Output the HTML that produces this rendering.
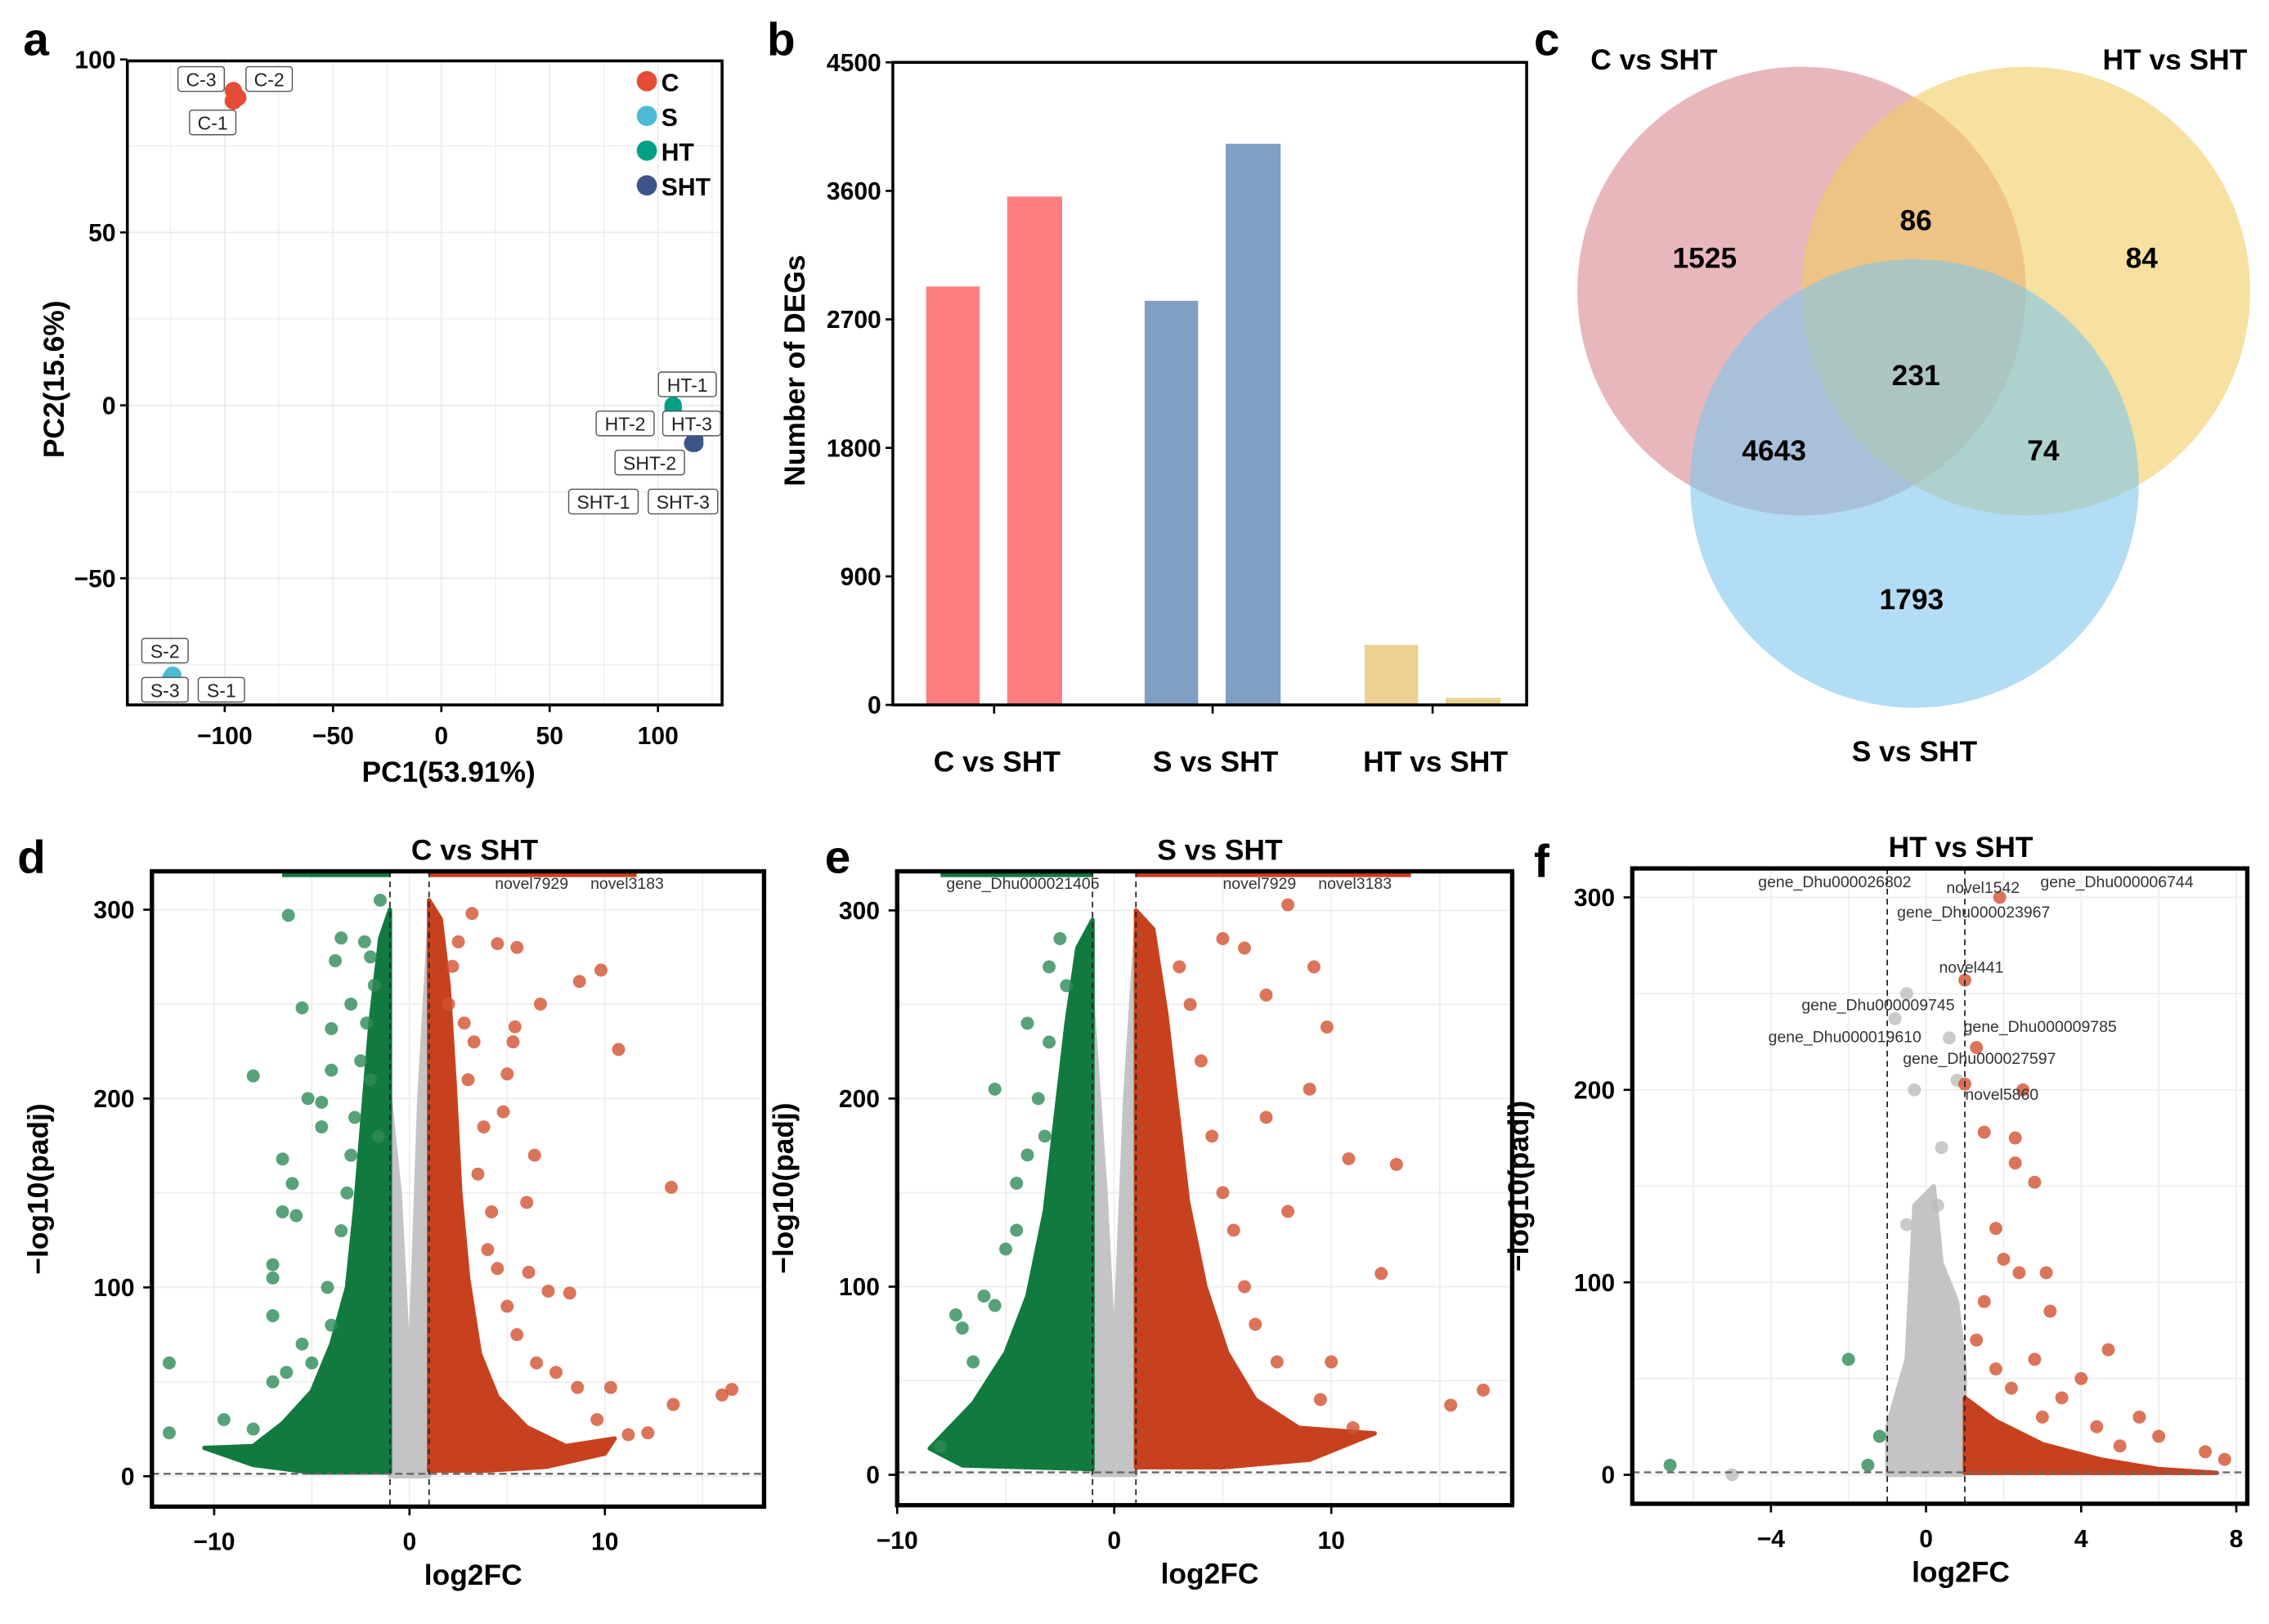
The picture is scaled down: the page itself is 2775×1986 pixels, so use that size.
<!DOCTYPE html>
<html><head><meta charset="utf-8"><style>
html,body{margin:0;padding:0;background:#fff}
svg{display:block;font-family:"Liberation Sans",Arial,sans-serif}
.t{font-weight:bold;font-size:17px}
.ax{font-weight:bold;font-size:20px}
.pl{font-weight:bold;font-size:32px}
.lbl{font-size:13px;fill:#222}
</style></head><body>
<svg id="fig" width="2775" height="1986" viewBox="0 0 1568 1122" xmlns="http://www.w3.org/2000/svg"></svg>
<script>
// ---- Panel a data ----
const pcaGroups=['C','S','HT','SHT'];
const pcaColors=['#e64b35','#4dbbd5','#00a087','#3c5488'];
const pcaPC1=[-96,-94,-96, -125,-125,-124, 107,107,107, 117,116,117];
const pcaPC2=[88,89,91, -79,-79,-78, 0,-1,-0.5, -11,-11,-10];
const pcaGroupIdx=[0,0,0,1,1,1,2,2,2,3,3,3];
const pcaXTicks=[-100,-50,0,50,100];
const pcaYTicks=[-50,0,50,100];
// ---- Panel b data ----
const degCategories=['C vs SHT','S vs SHT','HT vs SHT'];
const degUp=[2930,2830,420];
const degDown=[3560,3930,50];
const degTicks=[0,900,1800,2700,3600,4500];
// ---- Panel c data ----
const vennLabels=['1525','86','84','231','4643','74','1793'];
// ---- Volcano data ----
const volDGreen=[[-12.3,60],[-12.3,23],[-8,212],[-6.2,297],[-5.5,248],[-5.2,200],[-6.5,168],[-6,155],[-6.5,140],[-5.8,138],[-7,112],[-7,105],[-7,85],[-4.5,198],[-4.5,185],[-3.5,285],[-3.8,273],[-2.3,283],[-4,237],[-4,215],[-3,250],[-2,275],[-1.5,305],[-9.5,30],[-8,25],[-7,50],[-5,60],[-4,80],[-3.5,130],[-3,170],[-2.5,220],[-2.2,240],[-1.8,260],[-4.2,100],[-5.5,70],[-6.3,55],[-2.8,190],[-3.2,150],[-2,210],[-1.6,180]];
const volDRed=[[3.2,298],[2.5,283],[4.5,282],[5.5,280],[9.8,268],[8.7,262],[6.7,250],[10.7,226],[5.4,238],[5.3,230],[5,213],[4.8,193],[6.4,170],[6,145],[13.4,153],[6.1,108],[7.1,98],[8.2,97],[16.5,46],[16,43],[13.5,38],[9.6,30],[11.2,22],[12.2,23],[10.3,47],[8.6,47],[7.5,55],[4,120],[3.5,160],[3,210],[2.8,240],[2.2,270],[3.8,185],[4.2,140],[5,90],[5.5,75],[3.3,230],[2,250],[4.5,110],[6.5,60]];
const volDGreenArea=[[-1,3],[-1,300],[-1.5,285],[-2,240],[-2.4,190],[-2.8,140],[-3.2,100],[-4,70],[-5,45],[-6.5,28],[-8,16],[-10.5,15],[-8,6],[-5,2],[-1,2]];
const volDRedArea=[[1,3],[1,305],[1.6,295],[2,260],[2.3,210],[2.6,150],[3,105],[3.6,65],[4.5,42],[6,26],[8,16],[10.5,20],[10,12],[7,5],[4,3]];
const volDGrayArea=[[-1,0],[-1,200],[-0.5,150],[0,50],[0.5,200],[1,290],[1,0]];
const volEGreen=[[-5.5,205],[-4,240],[-4.5,155],[-6,95],[-7.3,85],[-7,78],[-3,270],[-2.5,285],[-5,120],[-6.5,60],[-8,15],[-3.5,200],[-3,230],[-4,170],[-4.5,130],[-5.5,90],[-2.2,260],[-3.2,180]];
const volERed=[[8,303],[9.8,238],[9,205],[10.8,168],[13,165],[12.3,107],[15.5,37],[17,45],[11,25],[9.5,40],[6,280],[7,255],[5,285],[9.2,270],[7,190],[8,140],[6,100],[10,60],[3.5,250],[4,220],[4.5,180],[5,150],[5.5,130],[3,270],[6.5,80],[7.5,60]];
const volEGreenArea=[[-1,4],[-1,295],[-1.7,280],[-2.2,240],[-2.7,190],[-3.2,140],[-4,95],[-5,65],[-6.5,38],[-8.5,14],[-7,5],[-1,3]];
const volERedArea=[[1,4],[1,300],[1.8,290],[2.4,245],[2.9,195],[3.4,145],[4.2,100],[5.2,65],[6.5,40],[8.5,25],[12,22],[9,8],[5,4]];
const volEGrayArea=[[-1,0],[-1,250],[-0.4,150],[0,60],[0.5,200],[1,290],[1,0]];
const volFRed=[[1.9,300],[1,257],[1.3,222],[1,203],[2.5,200],[1.5,178],[2.3,175],[2.3,162],[2.8,152],[1.8,128],[2,112],[2.4,105],[3.1,105],[3.2,85],[4.7,65],[5.5,30],[6,20],[7.2,12],[7.7,8],[4,50],[3.5,40],[2.8,60],[1.5,90],[1.3,70],[2.2,45],[3,30],[4.4,25],[5,15],[1.8,55]];
const volFGreen=[[-2,60],[-6.6,5],[-1.5,5],[-1.2,20]];
const volFGray=[[-5,0],[-0.5,250],[-0.8,237],[0.6,227],[0.8,205],[-0.3,200],[0.4,170],[-0.5,130],[0.3,140]];
const volFGrayArea=[[-1,0],[-1,25],[-0.5,60],[-0.3,140],[0.2,150],[0.4,110],[0.8,90],[1,55],[1,0]];
const volFRedArea=[[1,1],[1,40],[1.8,28],[3,16],[4.5,8],[6,3],[7.5,1]];

const svg=document.getElementById('fig');
const NS='http://www.w3.org/2000/svg';
function mk(tag,attrs,parent,text){const e=document.createElementNS(NS,tag);for(const k in attrs)e.setAttribute(k,attrs[k]);if(text!==undefined)e.textContent=text;(parent||svg).appendChild(e);return e;}

[['a',16,38],['b',530,38],['c',1060,38],['d',12,603],['e',570,603],['f',1060,606]].forEach(p=>{
 const e=mk('text',{x:p[1],y:p[2],class:'pl'},svg,p[0]);
 
 
});

// ===== Panel a =====
(function(){
 const g=mk('g',{});
 
 
 const L=88,R=499,T=42,B=487;
 const sx=v=>305+(v)*1.497, sy=v=>280-v*2.39;
 for(let v=-125;v<=125;v+=25){mk('line',{x1:sx(v),x2:sx(v),y1:T,y2:B,stroke:'#ebebeb','stroke-width':v%50===0?1:0.6},g);}
 for(let v=-75;v<=100;v+=25){mk('line',{x1:L,x2:R,y1:sy(v),y2:sy(v),stroke:'#ebebeb','stroke-width':v%50===0?1:0.6},g);}
 pcaXTicks.forEach(v=>{mk('line',{x1:sx(v),x2:sx(v),y1:B,y2:B+5,stroke:'#000','stroke-width':1.5},g);
  const t=mk('text',{x:sx(v),y:B+27,class:'t','text-anchor':'middle'},g,v<0?'\u2212'+(-v):v);});
 pcaYTicks.forEach(v=>{mk('line',{x1:L-5,x2:L,y1:sy(v),y2:sy(v),stroke:'#000','stroke-width':1.5},g);
  const t=mk('text',{x:L-8,y:sy(v)+6,class:'t','text-anchor':'end'},g,v<0?'\u2212'+(-v):v);});
 mk('rect',{x:L,y:T,width:R-L,height:B-T,fill:'none',stroke:'#000','stroke-width':2},g);
 const xt=mk('text',{x:310,y:540,class:'ax','text-anchor':'middle'},g,'PC1(53.91%)');
 const yt=mk('text',{x:0,y:0,class:'ax','text-anchor':'middle',transform:'translate(44,262) rotate(-90)'},g,'PC2(15.6%)');
 pcaPC1.forEach((v,i)=>{const c=mk('circle',{cx:sx(v),cy:sy(pcaPC2[i]),r:6,fill:pcaColors[pcaGroupIdx[i]]},g);
  });
 const labs=[['C-3',123,46],['C-2',170,46],['C-1',131,76],['HT-1',455,257],['HT-2',412,284],['HT-3',458,284],['SHT-2',425,311],['SHT-1',393,338],['SHT-3',448,338],['S-2',98,441],['S-3',98,468],['S-1',137,468]];
 labs.forEach(l=>{const w=l[0].length*8+8;mk('rect',{x:l[1],y:l[2],width:w,height:17,fill:'#fff',stroke:'#555','stroke-width':0.8,rx:2},g);
  const t=mk('text',{x:l[1]+w/2,y:l[2]+13.5,'text-anchor':'middle',class:'lbl'},g,l[0]);});
 pcaGroups.forEach((n,i)=>{const y=56+i*24;mk('circle',{cx:447,cy:y,r:7,fill:pcaColors[i]},g);
  const t=mk('text',{x:457,y:y+7,class:'t'},g,n);});
})();

// ===== Panel b =====
(function(){
 const g=mk('g',{});
 
 
 const L=617,R=1055,T=43,B=487;
 const sy=v=>B-v/4500*(B-T);
 const centers=[687,838,990];
 const cols=['#ff7f80','#7f9fc4','#ebd293'];
 degTicks.forEach(v=>{mk('line',{x1:L-5,x2:L,y1:sy(v),y2:sy(v),stroke:'#000','stroke-width':1.5},g);
  const t=mk('text',{x:L-8,y:sy(v)+6,class:'t','text-anchor':'end'},g,v);});
 degCategories.forEach((c,i)=>{
  const b1=mk('rect',{x:centers[i]-47,y:sy(degUp[i]),width:37,height:B-sy(degUp[i]),fill:cols[i]},g);
  
  const b2=mk('rect',{x:centers[i]+9,y:sy(degDown[i]),width:38,height:B-sy(degDown[i]),fill:cols[i]},g);
  
  mk('line',{x1:centers[i],x2:centers[i],y1:B,y2:B+6,stroke:'#000','stroke-width':1.5},g);
  const t=mk('text',{x:centers[i]+2,y:533,class:'ax','text-anchor':'middle'},g,c);
 });
 mk('rect',{x:L,y:T,width:R-L,height:B-T,fill:'none',stroke:'#000','stroke-width':2},g);
 const yt=mk('text',{x:0,y:0,class:'ax','text-anchor':'middle',transform:'translate(556,256) rotate(-90)'},g,'Number of DEGs');
})();

// ===== Panel c =====
(function(){
 const g=mk('g',{});
 
 
 const circ=[[1245,201,'#d9878f'],[1400,201,'#f0cd63'],[1323,334,'#7ec7ec']];
 const names=['c-vs-sht','ht-vs-sht','s-vs-sht'];
 circ.forEach((c,i)=>{const e=mk('circle',{cx:c[0],cy:c[1],r:155,fill:c[2],'fill-opacity':0.6},g);});
 const pos=[[1178,185],[1324,159],[1480,185],[1324,266],[1226,318],[1412,318],[1321,421]];
 vennLabels.forEach((v,i)=>{const t=mk('text',{x:pos[i][0],y:pos[i][1],class:'ax','text-anchor':'middle'},g,v);});
 [['C vs SHT',1143,48],['HT vs SHT',1503,48],['S vs SHT',1323,526]].forEach(s=>{const t=mk('text',{x:s[1],y:s[2],class:'ax','text-anchor':'middle'},g,s[0]);});
})();

// ===== Volcano =====
function volcano(o){
 const g=mk('g',{});
 
 
 const sx=v=>o.x0+v*o.kx, sy=v=>o.y0-v*o.ky;
 const cid='clip'+o.name;
 const cp=mk('clipPath',{id:cid},g);mk('rect',{x:o.L,y:o.T,width:o.R-o.L,height:o.B-o.T},cp);
 const inner=mk('g',{'clip-path':'url(#'+cid+')'},g);
 o.xg.forEach(v=>mk('line',{x1:sx(v),x2:sx(v),y1:o.T,y2:o.B,stroke:'#eee'},inner));
 for(let v=0;v<=300;v+=50)mk('line',{x1:o.L,x2:o.R,y1:sy(v),y2:sy(v),stroke:'#eee'},inner);
 const poly=(arr,col,nm)=>{const p=mk('polygon',{points:arr.map(d=>sx(d[0])+','+sy(d[1])).join(' '),fill:col,stroke:col,'stroke-width':3,'stroke-linejoin':'round'},inner);};
 poly(o.grA,'#c4c4c4','not-significant-density');
 if(o.gA)poly(o.gA,'#117a3f','down-regulated-density');
 if(o.rA)poly(o.rA,'#c8411f','up-regulated-density');
 if(o.topBar){mk('rect',{x:o.topBar[0],y:o.T,width:o.topBar[1]-o.topBar[0],height:4,fill:'#117a3f'},inner);mk('rect',{x:o.topBar[2],y:o.T,width:o.topBar[3]-o.topBar[2],height:4,fill:'#c8411f'},inner);}
 const pts=(arr,col,nm)=>arr.forEach(d=>{const c=mk('circle',{cx:sx(d[0]),cy:sy(d[1]),r:4.5,fill:col,'fill-opacity':0.8},inner);});
 pts(o.gray||[],'#bdbdbd','gene-point-ns');
 pts(o.green||[],'#2e8b57','gene-point-down');
 pts(o.red||[],'#d2512f','gene-point-up');
 [-1,1].forEach(v=>mk('line',{x1:sx(v),x2:sx(v),y1:o.T,y2:o.B,stroke:'#222','stroke-dasharray':'4,3'},inner));
 mk('line',{x1:o.L,x2:o.R,y1:sy(1.3),y2:sy(1.3),stroke:'#666','stroke-dasharray':'5,3','stroke-width':1.3},inner);
 mk('rect',{x:o.L,y:o.T,width:o.R-o.L,height:o.B-o.T,fill:'none',stroke:'#000','stroke-width':3},g);
 o.xt.forEach(v=>{mk('line',{x1:sx(v),x2:sx(v),y1:o.B,y2:o.B+6,stroke:'#000','stroke-width':1.5},g);
  const t=mk('text',{x:sx(v),y:o.B+30,class:'t','text-anchor':'middle'},g,v<0?'\u2212'+(-v):v);});
 [0,100,200,300].forEach(v=>{mk('line',{x1:o.L-6,x2:o.L,y1:sy(v),y2:sy(v),stroke:'#000','stroke-width':1.5},g);
  const t=mk('text',{x:o.L-12,y:sy(v)+6,class:'t','text-anchor':'end'},g,v);});
 const tt=mk('text',{x:o.tx,y:o.T-8,class:'ax','text-anchor':'middle','font-size':'23'},g,o.title);
 const xa=mk('text',{x:o.ax,y:o.B+54,class:'ax','text-anchor':'middle'},g,'log2FC');
 const ya=mk('text',{x:0,y:0,class:'ax','text-anchor':'middle',transform:'translate('+(o.L-72)+','+((o.T+o.B)/2)+') rotate(-90)'},g,'\u2212log10(padj)');
 (o.labels||[]).forEach(l=>{const t=mk('text',{x:l[1],y:l[2],'font-size':'11','fill':'#333'},g,l[0]);});
}
volcano({name:'volcano-c-vs-sht',title:'C vs SHT',tx:328,ax:327,L:105,R:528,T:602,B:1041,x0:283,kx:13.5,y0:1020,ky:1.305,xt:[-10,0,10],xg:[-10,-5,0,5,10,15],
 gA:volDGreenArea,rA:volDRedArea,grA:volDGrayArea,green:volDGreen,red:volDRed,topBar:[195,270,297,440],
 labels:[['novel7929',342,614],['novel3183',408,614]]});
volcano({name:'volcano-s-vs-sht',title:'S vs SHT',tx:843,ax:836,L:620,R:1045,T:602,B:1040,x0:770,kx:15,y0:1019,ky:1.3,xt:[-10,0,10],xg:[-10,-5,0,5,10,15],
 gA:volEGreenArea,rA:volERedArea,grA:volEGrayArea,green:volEGreen,red:volERed,topBar:[650,755,785,975],
 labels:[['gene_Dhu000021405',654,614],['novel7929',845,614],['novel3183',911,614]]});
volcano({name:'volcano-ht-vs-sht',title:'HT vs SHT',tx:1355,ax:1355,L:1128,R:1553,T:600,B:1039,x0:1331,kx:26.8,y0:1019,ky:1.33,xt:[-4,0,4,8],xg:[-6,-4,-2,0,2,4,6,8],
 rA:volFRedArea,grA:volFGrayArea,green:volFGreen,red:volFRed,gray:volFGray,
 labels:[['gene_Dhu000026802',1215,613],['novel1542',1345,617],['gene_Dhu000006744',1410,613],['gene_Dhu000023967',1311,634],['novel441',1340,672],['gene_Dhu000009745',1245,698],['gene_Dhu000009785',1357,713],['gene_Dhu000019610',1222,720],['gene_Dhu000027597',1315,735],['novel5860',1358,760]]});
</script>
</body></html>
